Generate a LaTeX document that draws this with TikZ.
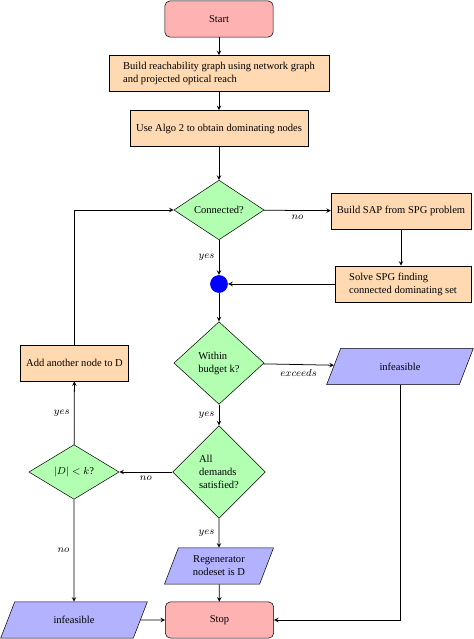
\documentclass[tikz,border=0pt]{standalone}
\usepackage{amsmath}
\usepackage{fontspec}
\setmainfont{Liberation Serif}
\usetikzlibrary{shapes.geometric,arrows}

\begin{document}
\begin{tikzpicture}[x=0.7874pt,y=-0.7874pt,
every node/.style={font=\fontsize{8.3}{10.2}\selectfont},
startstop/.style={rectangle, rounded corners, minimum width=3cm, minimum height=1cm, text centered, draw=black, fill=red!30},
io/.style={trapezium, trapezium left angle=70, trapezium right angle=110, trapezium stretches=true, minimum height=1cm, text centered, draw=black, fill=blue!30},
process/.style={rectangle, minimum width=3cm, minimum height=1cm, draw=black, fill=orange!30},
decision/.style={diamond, inner sep=0pt, align=left, draw=black, fill=green!30},
arrow/.style={line width=0.6pt,->,>=stealth}]
\useasboundingbox (0,0) rectangle (474,639);
\node (start) [startstop] at (219,19) {Start};
\node (build) [process, minimum width=173pt, align=left] at (219,73.5) {Build reachability graph using network graph\\and projected optical reach};
\node (algo) [process, minimum width=140pt] at (219,128.5) {Use Algo 2 to obtain dominating nodes};
\node (conn) [decision, minimum width=71pt, minimum height=47pt] at (219,210) {Connected?};
\node (sap) [process, minimum width=110pt] at (401,211) {Build SAP from SPG problem};
\node (spg) [process, minimum width=107pt, align=left] at (403,284) {Solve SPG finding\\connected dominating set};
\node (dot) [circle, fill=blue, inner sep=0pt, minimum size=14pt] at (219,284) {};
\node (budget) [decision, minimum width=71pt, minimum height=65pt] at (219,363) {Within\\budget k?};
\node (infR) [io, minimum width=116pt] at (400,366.5) {infeasible};
\node (add) [process] at (74.5,363) {Add another node to D};
\node (dem) [decision, minimum width=73pt, minimum height=73pt] at (219,472) {All\\demands\\satisfied?};
\node (dk) [decision, minimum width=71pt, minimum height=43pt] at (74,472) {$|D|<k$?};
\node (regen) [io, minimum width=86pt, align=center] at (219,566) {Regenerator\\nodeset is D};
\node (stop) [startstop] at (219.5,620) {Stop};
\node (infL) [io, minimum width=116pt] at (74,620) {infeasible};
\draw [arrow] (start) -- (build);
\draw [arrow] (build) -- (algo);
\draw [arrow] (algo) -- (conn);
\draw [arrow] (conn) -- node [below] {$no$} (sap);
\draw [arrow] (sap.south) -- (sap.south |- spg.north);
\draw [arrow] (spg) -- (dot);
\draw [arrow] (conn) -- node [left] {$yes$} (dot);
\draw [arrow] (dot) -- (budget);
\draw [arrow] (budget) -- node [below] {$exceeds$} (infR);
\draw [arrow] (budget) -- node [left] {$yes$} (dem);
\draw [arrow] (dem) -- node [below] {$no$} (dk);
\draw [arrow] (dk) -- node [left] {$yes$} (add);
\draw [arrow] (add) |- (conn);
\draw [arrow] (dk) -- node [left] {$no$} (infL);
\draw [arrow] (dem) -- node [left] {$yes$} (regen);
\draw [arrow] (regen) -- (stop);
\draw [arrow] (infL) -- (stop);
\draw [arrow] (infR) |- (stop);
\end{tikzpicture}
\end{document}
